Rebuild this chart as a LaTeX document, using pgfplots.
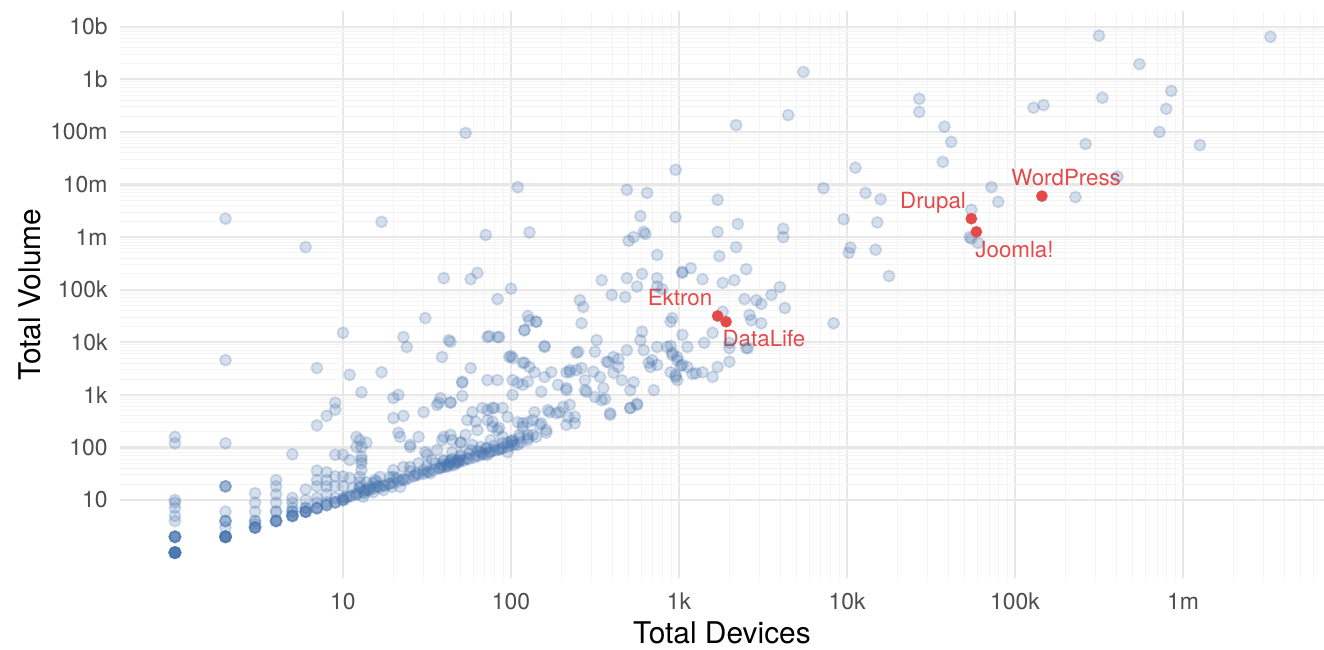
\documentclass[border=0pt]{standalone}
\usepackage{pgfplots}
\pgfplotsset{compat=1.18}
\usepackage{fontspec}
\setmainfont{TeX Gyre Heros}
\definecolor{ptblue}{RGB}{70,115,173}
\definecolor{ptred}{RGB}{228,74,74}
\definecolor{gridmaj}{RGB}{232,232,232}
\definecolor{gridmin}{RGB}{244,244,244}
\definecolor{ticklab}{RGB}{77,77,77}
\begin{document}
\begin{tikzpicture}
\begin{axis}[
  name=ax, scale only axis, width=602bp, height=283.5bp,
  xmin=-0.327, xmax=6.839, ymin=-0.483, ymax=10.30,
  axis line style={draw=none}, tick style={draw=none},
  xtick={1,2,3,4,5,6}, xticklabels={10,100,1k,10k,100k,1m},
  ytick={1,2,3,4,5,6,7,8,9,10}, yticklabels={10,100,1k,10k,100k,1m,10m,100m,1b,10b},
  minor xtick={1.30103,1.47712,1.60206,1.69897,1.77815,1.84510,1.90309,1.95424,
               2.30103,2.47712,2.60206,2.69897,2.77815,2.84510,2.90309,2.95424,
               3.30103,3.47712,3.60206,3.69897,3.77815,3.84510,3.90309,3.95424,
               4.30103,4.47712,4.60206,4.69897,4.77815,4.84510,4.90309,4.95424,
               5.30103,5.47712,5.60206,5.69897,5.77815,5.84510,5.90309,5.95424,
               6.30103,6.47712,6.60206,6.69897,6.77815},
  minor ytick={1.30103,1.47712,1.60206,1.69897,1.77815,1.84510,1.90309,1.95424,
               2.30103,2.47712,2.60206,2.69897,2.77815,2.84510,2.90309,2.95424,
               3.30103,3.47712,3.60206,3.69897,3.77815,3.84510,3.90309,3.95424,
               4.30103,4.47712,4.60206,4.69897,4.77815,4.84510,4.90309,4.95424,
               5.30103,5.47712,5.60206,5.69897,5.77815,5.84510,5.90309,5.95424,
               6.30103,6.47712,6.60206,6.69897,6.77815,6.84510,6.90309,6.95424,
               7.30103,7.47712,7.60206,7.69897,7.77815,7.84510,7.90309,7.95424,
               8.30103,8.47712,8.60206,8.69897,8.77815,8.84510,8.90309,8.95424,
               9.30103,9.47712,9.60206,9.69897,9.77815,9.84510,9.90309,9.95424},
  grid=both,
  major grid style={gridmaj, line width=1.1bp},
  minor grid style={gridmin, line width=0.5bp},
  ticklabel style={font=\fontsize{11.5}{13}\selectfont, text=ticklab},
  xticklabel style={yshift=-4bp},
  yticklabel style={xshift=-2.7bp},
  xlabel={Total Devices}, ylabel={Total Volume},
  label style={font=\fontsize{15}{18}\selectfont},
  xlabel style={at={(axis description cs:0.5,-0.097)}, anchor=center},
  ylabel style={at={(axis description cs:-0.0748,0.5)}, anchor=center},
]
\addplot[only marks, mark=*, mark size=2.8bp,
  mark options={fill=ptblue, draw=ptblue, fill opacity=0.22, draw opacity=0.22, line width=0.9bp}]
  table[row sep=\\] {
x y\\
0 0\\0 0\\0 0\\0 0\\0 0\\0 0\\0 0\\0 0\\0 0\\0 0\\0 0\\0 0\\
0 0.301\\0 0.301\\0 0.301\\0 0.301\\0 0.301\\0 0.301\\0 0.60\\0 0.70\\0 0.85\\0 0.95\\0 1.0\\0 2.08\\0 2.20\\
0.301 6.35\\0.301 3.66\\0.301 2.08\\0.301 1.26\\0.301 1.26\\0.301 1.26\\0.301 0.78\\0.301 0.60\\0.301 0.60\\0.301 0.60\\0.301 0.48\\
0.301 0.301\\0.301 0.301\\0.301 0.301\\0.301 0.301\\0.301 0.301\\0.301 0.301\\0.301 0.301\\0.301 0.301\\0.301 0.301\\
0.477 1.13\\0.477 0.95\\0.477 0.78\\0.477 0.60\\0.477 0.60\\0.477 0.54\\0.477 0.477\\0.477 0.477\\0.477 0.477\\0.477 0.477\\0.477 0.477\\
0.602 1.38\\0.602 1.26\\0.602 1.11\\0.602 0.95\\0.602 0.78\\0.602 0.78\\0.602 0.602\\0.602 0.602\\0.602 0.602\\0.602 0.602\\0.602 0.602\\
0.699 1.87\\0.699 1.04\\0.699 0.95\\0.699 0.85\\0.699 0.78\\0.699 0.78\\0.699 0.699\\0.699 0.699\\0.699 0.699\\0.699 0.699\\0.699 0.699\\
0.778 5.81\\0.778 1.20\\0.778 1.0\\0.778 0.85\\0.778 0.85\\0.778 0.778\\0.778 0.778\\0.778 0.778\\0.778 0.778\\0.778 0.778\\
0.845 3.51\\0.845 2.42\\0.845 1.56\\0.845 1.38\\0.845 1.26\\0.845 1.04\\0.845 0.95\\0.845 0.845\\0.845 0.845\\0.845 0.845\\0.845 0.845\\
0.903 2.60\\0.903 1.53\\0.903 1.38\\0.903 1.26\\0.903 1.11\\0.903 0.954\\0.903 0.903\\0.903 0.903\\0.903 0.903\\
0.954 2.85\\0.954 2.72\\0.954 1.86\\0.954 1.45\\0.954 1.26\\0.954 1.04\\0.954 0.954\\0.954 0.954\\0.954 0.954\\
1.0 4.18\\1.0 1.86\\1.0 1.45\\1.0 1.26\\1.0 1.04\\1.0 1.0\\1.0 1.0\\1.0 1.0\\
1.04 3.38\\1.11 3.05\\1.08 2.20\\1.14 2.09\\1.08 2.01\\1.11 1.82\\1.04 1.76\\1.11 1.76\\1.11 1.70\\1.04 1.42\\
1.10 1.44\\1.10 1.34\\1.14 1.34\\1.18 1.32\\1.06 1.23\\1.10 1.23\\1.14 1.19\\1.20 1.25\\1.02 1.06\\1.08 1.10\\
1.13 1.13\\1.18 1.15\\1.23 3.43\\1.23 6.29\\1.12 1.06\\1.16 1.25\\1.19 1.38\\1.22 1.44\\1.24 1.19\\1.29 1.25\\
1.28 1.44\\1.32 1.42\\1.30 1.57\\1.34 1.25\\1.37 1.38\\1.36 1.63\\1.40 1.63\\1.44 1.51\\1.45 1.70\\1.48 1.57\\
1.52 1.51\\1.50 1.86\\1.53 1.76\\1.56 1.95\\1.59 1.67\\1.64 1.76\\1.70 1.86\\1.76 1.95\\1.82 2.01\\1.86 1.99\\
1.86 1.86\\1.88 2.14\\1.98 2.09\\1.95 2.20\\1.92 2.33\\1.89 2.49\\1.86 2.52\\1.86 2.71\\1.90 2.75\\1.95 2.75\\
1.98 2.58\\1.77 2.67\\1.79 2.49\\1.80 2.33\\1.59 2.14\\1.64 2.24\\1.65 2.14\\1.70 2.09\\1.40 2.05\\1.45 2.20\\
1.33 2.28\\1.34 2.20\\1.30 2.56\\1.36 2.60\\1.48 2.67\\1.57 2.85\\1.58 2.94\\1.64 2.85\\1.71 3.23\\1.71 2.98\\
1.30 2.94\\1.33 3.00\\1.76 3.51\\1.38 3.91\\1.64 4.01\\1.59 3.72\\1.36 4.10\\1.10 2.14\\1.11 2.01\\1.11 1.57\\
1.40 2.01\\1.49 1.91\\1.60 2.20\\1.56 2.81\\
1.02 1.04\\1.05 1.08\\1.08 1.12\\1.12 1.15\\1.15 1.20\\1.18 1.22\\1.21 1.26\\1.24 1.28\\1.27 1.30\\1.30 1.33\\
1.33 1.36\\1.36 1.40\\1.39 1.42\\1.42 1.45\\1.45 1.48\\1.48 1.50\\1.51 1.54\\1.54 1.57\\1.57 1.60\\1.60 1.63\\
1.63 1.66\\1.66 1.69\\1.69 1.72\\1.72 1.75\\1.75 1.78\\1.78 1.81\\1.81 1.84\\1.84 1.87\\1.87 1.90\\1.90 1.94\\
1.94 1.97\\1.98 2.01\\2.02 2.05\\2.06 2.10\\2.10 2.14\\2.15 2.20\\
1.10 1.25\\1.20 1.35\\1.30 1.44\\1.40 1.55\\1.50 1.65\\1.55 1.70\\1.60 1.74\\1.65 1.78\\1.70 1.83\\1.75 1.88\\
1.80 1.93\\1.85 1.98\\1.90 2.03\\1.95 2.08\\2.00 2.12\\2.05 2.18\\2.10 2.24\\1.63 1.70\\1.67 1.72\\1.66 1.66\\
1.13 1.18\\1.25 1.27\\
1.04 1.07\\1.09 1.13\\1.16 1.19\\1.22 1.24\\1.28 1.31\\1.35 1.38\\1.43 1.47\\1.50 1.53\\1.58 1.62\\1.62 1.66\\
1.68 1.71\\1.71 1.76\\1.74 1.79\\1.79 1.84\\1.83 1.88\\1.88 1.92\\1.93 1.97\\2.00 2.04\\1.64 1.72\\1.69 1.75\\
2.31 2.77\\2.34 2.58\\2.38 2.58\\2.38 2.46\\2.33 2.43\\2.27 2.65\\2.22 2.71\\2.14 2.67\\2.13 2.52\\2.10 2.48\\
2.13 2.24\\2.21 2.28\\2.17 2.43\\2.04 2.48\\2.01 2.14\\1.95 1.99\\2.05 2.24\\1.89 2.39\\1.83 2.75\\1.89 2.75\\
1.93 2.37\\1.92 1.95\\1.74 2.52\\1.73 2.24\\1.70 2.10\\1.65 1.91\\1.60 1.76\\1.62 1.63\\1.58 1.61\\1.68 1.76\\
1.77 2.05\\1.82 1.91\\2.45 3.06\\2.54 2.90\\2.59 2.62\\2.75 2.81\\2.71 2.75\\2.85 3.09\\
2.01 3.70\\2.07 3.61\\2.14 3.43\\2.20 3.34\\2.24 3.43\\2.33 3.43\\2.39 3.80\\2.28 3.19\\2.33 3.13\\2.18 3.06\\
2.04 3.23\\2.10 3.25\\2.01 3.00\\2.07 2.46\\2.18 2.46\\2.23 2.67\\2.21 2.33\\2.10 2.18\\2.07 2.39\\2.01 2.10\\
2.04 2.05\\1.98 1.91\\
3.02 4.14\\2.77 4.04\\2.95 3.93\\2.87 3.91\\3.05 3.91\\3.20 4.18\\3.15 3.99\\3.30 3.89\\3.40 3.89\\2.96 3.80\\
2.99 3.72\\3.02 3.57\\3.05 3.53\\2.82 3.61\\2.83 3.53\\2.95 3.43\\2.98 3.34\\2.99 3.28\\3.08 3.40\\3.14 3.43\\
3.20 3.34\\3.23 3.53\\3.30 3.63\\2.69 3.85\\2.61 3.72\\2.51 4.04\\2.40 3.82\\2.50 3.82\\2.57 3.63\\2.64 3.53\\
2.61 3.42\\2.49 3.44\\2.44 3.28\\2.39 3.47\\2.35 3.47\\2.11 3.53\\2.07 3.19\\2.01 3.28\\1.92 3.28\\1.86 3.28\\
1.71 3.25\\1.64 2.86\\1.99 3.72\\2.08 3.61\\2.20 3.91\\1.86 4.10\\1.92 4.10\\2.11 4.42\\2.15 4.39\\2.08 4.23\\
2.96 4.46\\3.30 3.99\\3.41 3.89\\2.78 4.20\\2.93 3.91\\2.79 3.85\\2.96 3.76\\2.99 3.66\\2.84 3.66\\2.87 3.57\\
3.01 3.55\\2.58 3.62\\2.64 3.68\\2.42 3.51\\2.35 3.43\\2.53 3.34\\3.10 3.41\\2.98 3.38\\2.73 3.24\\2.66 3.28\\
2.44 3.09\\2.55 3.13\\2.71 3.09\\2.33 3.09\\2.50 2.96\\2.56 2.92\\2.35 2.81\\2.59 2.65\\2.75 2.83\\2.71 2.75\\
2.29 2.67\\
1.73 7.98\\2.04 6.95\\2.69 6.90\\2.81 6.84\\3.86 6.93\\4.11 6.84\\4.20 6.72\\3.23 6.71\\2.77 6.40\\2.98 6.38\\
3.98 6.34\\4.18 6.28\\1.85 6.04\\2.11 6.09\\2.70 5.93\\2.73 6.00\\2.79 6.10\\2.80 6.06\\3.23 6.10\\3.35 6.25\\
3.34 5.81\\3.24 5.64\\2.87 5.66\\3.62 6.16\\3.62 6.00\\4.02 5.80\\4.01 5.70\\4.17 5.76\\4.25 5.26\\2.98 7.28\\
4.05 7.32\\3.34 8.13\\3.65 8.32\\3.74 9.14\\1.60 5.22\\1.76 5.20\\1.80 5.32\\2.00 5.02\\1.92 4.82\\1.49 4.46\\
2.10 4.50\\2.15 4.39\\2.08 4.23\\1.63 4.04\\1.87 4.12\\1.93 4.10\\2.20 3.93\\2.00 3.74\\
2.54 5.18\\2.69 5.22\\2.78 5.30\\2.75 5.06\\2.60 4.90\\2.68 4.86\\2.87 5.22\\2.87 5.06\\2.90 5.01\\3.02 5.32\\
3.07 5.41\\3.14 5.20\\3.26 5.13\\3.33 5.18\\3.40 5.39\\3.60 5.05\\3.55 4.90\\3.39 4.82\\3.46 4.80\\3.49 4.73\\
3.63 4.65\\3.92 4.36\\2.41 4.80\\2.43 4.67\\2.42 4.36\\2.95 4.39\\3.42 4.52\\3.43 4.42\\3.49 4.36\\3.26 4.58\\
3.02 5.34\\
5.50 9.83\\6.52 9.81\\5.74 9.29\\5.93 8.78\\5.52 8.65\\5.90 8.44\\4.43 8.63\\4.43 8.38\\5.11 8.46\\5.17 8.51\\
5.86 8.00\\4.58 8.10\\4.62 7.81\\4.57 7.43\\5.42 7.77\\6.10 7.75\\4.86 6.95\\4.90 6.67\\5.36 6.76\\5.61 7.15\\
4.74 6.52\\4.73 6.00\\4.74 5.97\\4.78 5.89\\
};
\addplot[only marks, mark=*, mark size=2.6bp,
  mark options={fill=ptred, draw=ptred, line width=0.6bp}]
  table[row sep=\\] {
x y\\
5.16 6.78\\4.74 6.35\\4.77 6.10\\3.23 4.50\\3.28 4.39\\
};
\begin{scope}[every node/.style={text=ptred, font=\fontsize{11.2}{13}\selectfont, anchor=base, inner sep=0pt}]
\node at (axis cs:5.304,6.975) {WordPress};
\node at (axis cs:4.512,6.537) {Drupal};
\node at (axis cs:4.997,5.605) {Joomla!};
\node at (axis cs:3.006,4.692) {Ektron};
\node at (axis cs:3.506,3.912) {DataLife};
\end{scope}
\end{axis}
\pgfresetboundingbox
\path ([xshift=-60bp,yshift=-36bp]ax.south west) rectangle ([yshift=5.5bp]ax.north east);
\end{tikzpicture}
\end{document}
